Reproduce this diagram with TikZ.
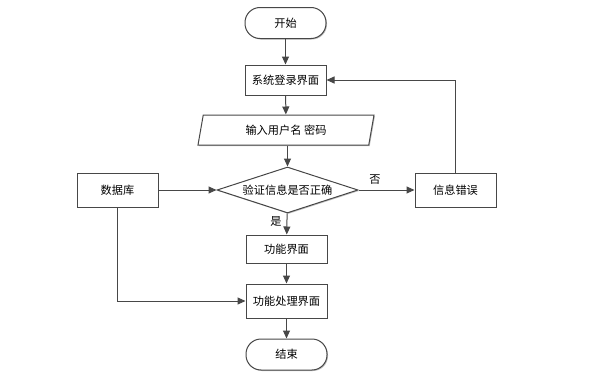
\documentclass[tikz,border=0pt]{standalone}
\usepackage{fontspec}
\setmainfont{Noto Sans CJK SC}
\usetikzlibrary{arrows.meta,shapes.geometric,shadows}
\definecolor{lc}{HTML}{474747}
\begin{document}
\begin{tikzpicture}[x=1pt,y=-1pt,
  font=\fontsize{11.2pt}{13pt}\selectfont,
  base/.style={draw=lc,line width=1pt,fill=white,inner sep=0pt,
    drop shadow={shadow xshift=1pt,shadow yshift=-1pt,opacity=0.25,fill=black}},
  proc/.style={base,rectangle,minimum width=81pt,minimum height=#1},
  proc/.default=32pt,
  term/.style={base,rectangle,rounded corners=15pt,minimum width=81pt,minimum height=31pt},
  io/.style={base,trapezium,trapezium left angle=63.4,trapezium right angle=116.6,
    trapezium stretches body,minimum width=176pt,minimum height=30pt,drop shadow={opacity=0}},
  dec/.style={base,diamond,aspect=3,minimum width=141pt,minimum height=46pt,drop shadow={opacity=0}},
  conn/.style={draw=lc,line width=1pt,-{Triangle[length=8pt,width=7pt]}},
  lbl/.style={inner sep=0pt}]
\useasboundingbox (0,0) rectangle (590,380);
\node[term] (start) at (285.5,23) {开始};
\node[proc=30pt] (login) at (285.5,80) {系统登录界面};
\node[io] (input) at (286,130) {输入用户名 密码};
\node[dec] (check) at (287.5,190) {验证信息是否正确};
\node[proc=34pt] (db) at (117.5,190) {数据库};
\node[proc=34pt] (err) at (455.5,190) {信息错误};
\node[proc=28pt] (func) at (286.5,249) {功能界面};
\node[proc=34pt] (fproc) at (286.5,301) {功能处理界面};
\node[term] (end) at (286.5,354.5) {结束};
\node[lbl] (yes) at (276,221) {是};
\node[lbl] (no) at (375,180) {否};
\draw[conn] (start) -- (login);
\draw[conn] (login) -- (input);
\draw[conn] (input.south -| check.north) -- (check);
\draw[conn] (check) -- (func);
\draw[conn] (func) -- (fproc);
\draw[conn] (fproc) -- (end);
\draw[conn] (db) -- (check);
\draw[conn] (check) -- (err);
\draw[conn] (err.north) |- (login.east);
\draw[conn] (db.south) |- (fproc.west);
\end{tikzpicture}
\end{document}
